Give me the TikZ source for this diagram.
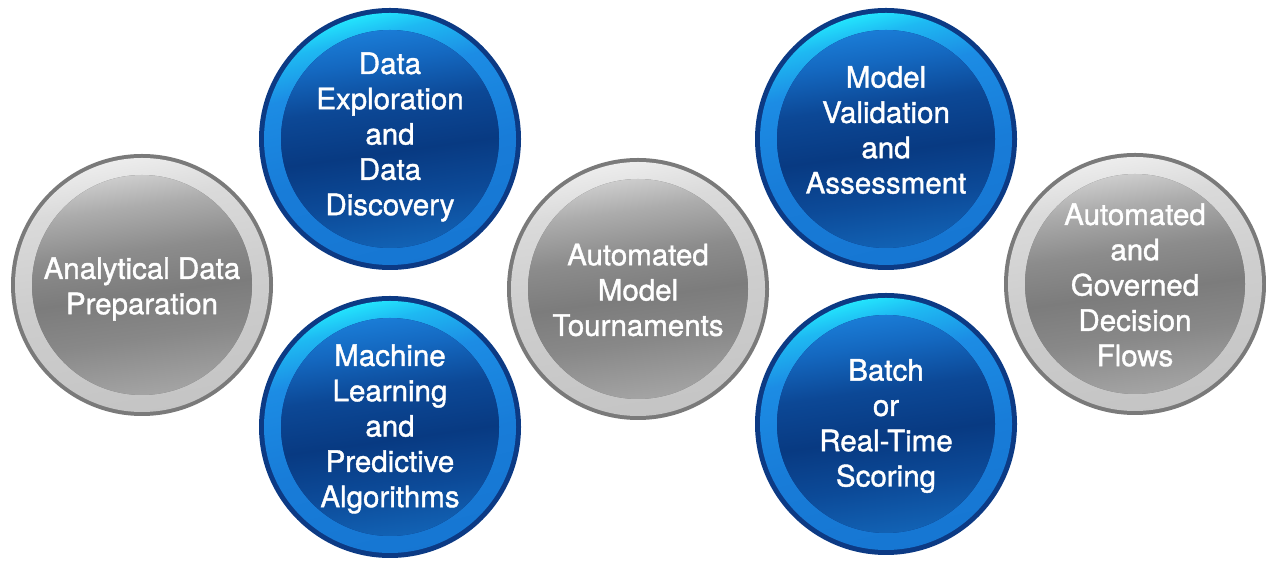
\documentclass[tikz,border=0pt]{standalone}
\usepackage{fontspec}
\setmainfont{TeX Gyre Heros}
\newfontfamily\discfont{TeX Gyre Heros}[FakeBold=1.3]
\definecolor{bOut}{HTML}{0C3A84}
\definecolor{gOut}{HTML}{7A7A7A}
\pgfdeclareverticalshading{bring}{100bp}{color(0bp)=(rgb,255:red,22;green,118;blue,210); color(25bp)=(rgb,255:red,22;green,118;blue,210); color(45bp)=(rgb,255:red,24;green,124;blue,216); color(62bp)=(rgb,255:red,28;green,140;blue,228); color(70bp)=(rgb,255:red,30;green,185;blue,242); color(75bp)=(rgb,255:red,36;green,236;blue,255); color(100bp)=(rgb,255:red,36;green,236;blue,255)}
\pgfdeclareverticalshading{binner}{100bp}{color(0bp)=(rgb,255:red,18;green,98;blue,180); color(25bp)=(rgb,255:red,18;green,98;blue,180); color(36bp)=(rgb,255:red,12;green,74;blue,152); color(47bp)=(rgb,255:red,8;green,58;blue,130); color(58bp)=(rgb,255:red,12;green,72;blue,150); color(68bp)=(rgb,255:red,20;green,104;blue,192); color(75bp)=(rgb,255:red,26;green,124;blue,214); color(100bp)=(rgb,255:red,26;green,124;blue,214)}
\pgfdeclareverticalshading{gring}{100bp}{color(0bp)=(rgb,255:red,196;green,196;blue,196); color(25bp)=(rgb,255:red,196;green,196;blue,196); color(50bp)=(rgb,255:red,206;green,206;blue,206); color(66bp)=(rgb,255:red,218;green,218;blue,218); color(75bp)=(rgb,255:red,238;green,238;blue,238); color(100bp)=(rgb,255:red,238;green,238;blue,238)}
\pgfdeclareverticalshading{ginner}{100bp}{color(0bp)=(rgb,255:red,164;green,164;blue,164); color(25bp)=(rgb,255:red,164;green,164;blue,164); color(38bp)=(rgb,255:red,136;green,136;blue,136); color(48bp)=(rgb,255:red,124;green,124;blue,124); color(58bp)=(rgb,255:red,140;green,140;blue,140); color(68bp)=(rgb,255:red,172;green,172;blue,172); color(75bp)=(rgb,255:red,204;green,204;blue,204); color(100bp)=(rgb,255:red,204;green,204;blue,204)}
\tikzset{
  disc/.style={circle, minimum size=262pt, inner sep=0pt},
  disctext/.style={align=center, text=white, inner sep=0pt,
    font=\discfont\fontsize{29.5}{35.3}\selectfont},
  bluedisc/.style={disc, fill=bOut, path picture={
      \fill[shading=bring, shading angle=14]
        (path picture bounding box.center) circle[radius=126pt];
      \fill[shading=binner, shading angle=8]
        (path picture bounding box.center) circle[radius=109pt];
    }},
  greydisc/.style={disc, fill=gOut, path picture={
      \fill[shading=gring, shading angle=10]
        (path picture bounding box.center) circle[radius=127pt];
      \fill[shading=ginner, shading angle=8]
        (path picture bounding box.center) circle[radius=110pt];
    }},
}
\begin{document}
\begin{tikzpicture}[x=1pt,y=1pt]
\useasboundingbox (0,0) rectangle (1266,561);
\node[greydisc] (g1) at (142,276) {};
\node[bluedisc] (b1) at (390,422) {};
\node[bluedisc] (b2) at (390,134) {};
\node[greydisc] (g2) at (638,272) {};
\node[bluedisc] (b3) at (886,422) {};
\node[bluedisc] (b4) at (886,137) {};
\node[greydisc] (g3) at (1135,277) {};
\node[disctext] (g1t) at ([yshift=-4pt]g1.center) {Analytical Data\\Preparation};
\node[disctext] (b1t) at ([yshift=2pt]b1.center) {Data\\Exploration\\and\\Data\\Discovery};
\node[disctext] (b2t) at ([yshift=-2pt]b2.center) {Machine\\Learning\\and\\Predictive\\Algorithms};
\node[disctext] (g2t) at ([yshift=-1pt]g2.center) {Automated\\Model\\Tournaments};
\node[disctext] (b3t) at ([yshift=9pt]b3.center) {Model\\Validation\\and\\Assessment};
\node[disctext] (b4t) at ([yshift=-2pt]b4.center) {Batch\\or\\Real-Time\\Scoring};
\node[disctext] (g3t) at ([yshift=-1pt]g3.center) {Automated\\and\\Governed\\Decision\\Flows};
\end{tikzpicture}
\end{document}
